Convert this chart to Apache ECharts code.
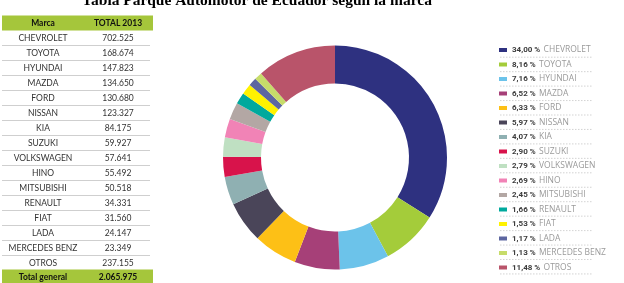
<!DOCTYPE html>
<html>
<head>
<meta charset="utf-8">
<script src="https://cdn.jsdelivr.net/npm/echarts@6/dist/echarts.min.js"></script>
<style>
  html, body { margin: 0; padding: 0; background: #fff; }
  #chart { width: 624px; height: 283px; }
</style>
</head>
<body>
<div id="chart"></div>
<script>
let marcas = ['CHEVROLET', 'TOYOTA', 'HYUNDAI', 'MAZDA', 'FORD', 'NISSAN', 'KIA', 'SUZUKI',
  'VOLKSWAGEN', 'HINO', 'MITSUBISHI', 'RENAULT', 'FIAT', 'LADA', 'MERCEDES BENZ', 'OTROS'];
let totales = [702525, 168674, 147823, 134650, 130680, 123327, 84175, 59927,
  57641, 55492, 50518, 34331, 31560, 24147, 23349, 237155];
let totalGeneral = 2065975;
let encabezados = ['Marca', 'TOTAL 2013'];
let filaTotal = 'Total general';

let colores = ['#2e3180', '#a4cc3a', '#6cc3ea', '#a64078', '#fdc016', '#4a4559', '#8fb0b2', '#d8134b',
  '#bfe0c2', '#f183b6', '#b3a7a4', '#00a99d', '#fff200', '#5d66a0', '#c7dc6a', '#b9546a'];

function miles(n) {
  return String(n).replace(/\B(?=(\d{3})+(?!\d))/g, '.');
}

let mychart = echarts.init(document.getElementById('chart'));

// tabla de la izquierda
let graficos = [];
let verde = '#a5c63b';
let filaH = 15;
let colX = [43, 118];
graficos.push({ type: 'rect', shape: { x: 2, y: 15.5, width: 151, height: 15 }, style: { fill: verde } });
encabezados.forEach(function (t, i) {
  graficos.push({ type: 'text', x: colX[i], y: 23, style: {
    text: t, fill: '#111', font: 'bold 8.5px Lato', align: 'center', verticalAlign: 'middle' } });
});
marcas.forEach(function (m, i) {
  let y = 38 + i * filaH;
  graficos.push({ type: 'text', x: colX[0], y: y, style: {
    text: m, fill: '#333', font: '8.5px Lato', align: 'center', verticalAlign: 'middle' } });
  graficos.push({ type: 'text', x: colX[1], y: y, style: {
    text: miles(totales[i]), fill: '#333', font: '8.5px Lato', align: 'center', verticalAlign: 'middle' } });
  if (i < marcas.length - 1) {
    graficos.push({ type: 'line', shape: { x1: 2, y1: y + 7.5, x2: 150, y2: y + 7.5 },
      style: { stroke: '#cfcfcf', lineWidth: 1 } });
  }
});
let yTot = 38 + marcas.length * filaH - 1;
graficos.push({ type: 'rect', shape: { x: 2, y: yTot - 7.5, width: 151, height: 16 }, style: { fill: verde } });
graficos.push({ type: 'text', x: colX[0], y: yTot, style: {
  text: filaTotal, fill: '#111', font: 'bold 8.5px Lato', align: 'center', verticalAlign: 'middle' } });
graficos.push({ type: 'text', x: colX[1], y: yTot, style: {
  text: miles(totalGeneral), fill: '#111', font: 'bold 8.5px Lato', align: 'center', verticalAlign: 'middle' } });

// lineas punteadas de la leyenda
let legTop = 50, legPaso = 14.45;
marcas.forEach(function (m, i) {
  let y = legTop + i * legPaso + 7.2;
  graficos.push({ type: 'line', shape: { x1: 500, y1: y, x2: 592, y2: y },
    style: { stroke: '#c8c8c8', lineWidth: 0.8, lineDash: [1.5, 1.5] } });
});

mychart.setOption({
  animation: false,
  color: colores,
  title: {
    text: 'Tabla Parque Automotor de Ecuador según la marca',
    left: 257,
    textAlign: 'center',
    top: -7,
    padding: 0,
    textStyle: { fontFamily: 'Liberation Serif', fontWeight: 'bold', fontSize: 15.5, color: '#000' }
  },
  legend: {
    orient: 'vertical',
    left: 499,
    top: legTop - 6,
    height: 270,
    padding: 0,
    itemWidth: 8,
    itemHeight: 4,
    itemGap: 2.5,
    icon: 'rect',
    selectedMode: false,
    data: marcas,
    formatter: function (name) {
      let i = marcas.indexOf(name);
      let pct = (totales[i] / totalGeneral * 100).toFixed(2).replace('.', ',');
      return '{p|' + pct + ' %} {n|' + name + '}';
    },
    textStyle: {
      rich: {
        p: { fontFamily: 'Roboto', fontWeight: 'bold', fontSize: 8, color: '#3c3c3c', lineHeight: 10 },
        n: { fontFamily: 'Open Sans', fontSize: 8.5, color: '#9a9a9a', lineHeight: 10 }
      }
    }
  },
  series: [
    {
      type: 'pie',
      center: [335, 157.5],
      radius: [74, 112],
      startAngle: 90,
      clockwise: true,
      silent: true,
      label: { show: false },
      labelLine: { show: false },
      data: marcas.map(function (m, i) { return { name: m, value: totales[i] }; })
    }
  ],
  graphic: graficos
});
</script>
</body>
</html>
